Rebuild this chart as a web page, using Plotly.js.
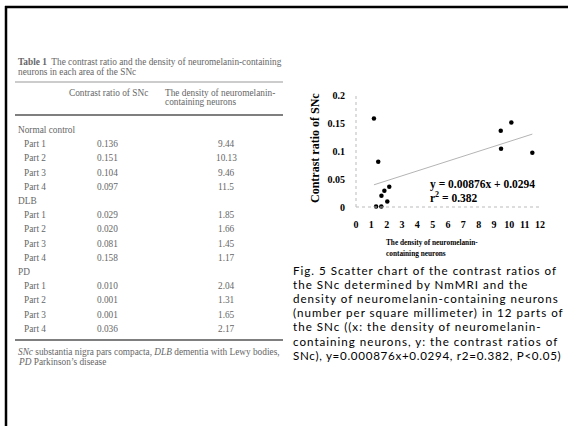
<!DOCTYPE html>
<html><head><meta charset="utf-8">
<script src="https://cdn.plot.ly/plotly-3.0.1.min.js"></script>
<style>html,body{margin:0;padding:0;background:#fff;}#chart{width:568px;height:426px;}</style>
</head><body><div id="chart"></div>
<script>
// ---- data ----
const groups = ['Normal control', 'DLB', 'PD'];
const parts = ['Part 1', 'Part 2', 'Part 3', 'Part 4'];
const contrastNormal = [0.136, 0.151, 0.104, 0.097];
const contrastDLB = [0.029, 0.020, 0.081, 0.158];
const contrastPD = [0.010, 0.001, 0.001, 0.036];
const densityNormal = [9.44, 10.13, 9.46, 11.5];
const densityDLB = [1.85, 1.66, 1.45, 1.17];
const densityPD = [2.04, 1.31, 1.65, 2.17];
const slope = 0.00876;
const intercept = 0.0294;
const rSquared = 0.382;
const xTickVals = [0, 1, 2, 3, 4, 5, 6, 7, 8, 9, 10, 11, 12];
const yTickVals = [0, 0.05, 0.1, 0.15, 0.2];
const yTickText = ['0', '0.05', '0.1', '0.15', '0.2'];

// ---- texts ----
const tableTitle = ['<b>Table 1</b>  The contrast ratio and the density of neuromelanin-containing',
                    'neurons in each area of the SNc'];
const headerCol2 = 'Contrast ratio of SNc';
const headerCol3 = ['The density of neuromelanin-', 'containing neurons'];
const footnote = ['<i>SNc</i> substantia nigra pars compacta, <i>DLB</i> dementia with Lewy bodies,',
                  '<i>PD</i> Parkinson\u2019s disease'];
const yTitle = 'Contrast ratio of SNc';
const xTitleLines = ['The density of neuromelanin-', 'containing neurons'];
const captionLines = [
  'Fig. 5 Scatter chart of the contrast ratios of',
  'the SNc determined by NmMRI and the',
  'density of neuromelanin-containing neurons',
  '(number per square millimeter) in 12 parts of',
  'the SNc ((x: the density of neuromelanin-',
  'containing neurons, y: the contrast ratios of',
  'SNc), y=0.000876x+0.0294, r2=0.382, P&lt;0.05)'
];

// ---- helpers (pixel -> paper) ----
const W = 568, H = 426;
const px = v => v / W;
const py = v => 1 - v / H;

const serif = 'Liberation Serif, Times New Roman, serif';
const tColor = '#666';
const tSize = 9.3;
const ann = [];
const shapes = [];

function note(text, x, y, anchor, font, extra) {
  ann.push(Object.assign({text: text, x: px(x), y: py(y), xref: 'paper', yref: 'paper',
    xanchor: anchor, yanchor: 'middle', showarrow: false, font: font}, extra || {}));
}
const tFont = {family: serif, size: tSize, color: tColor};

// table title
tableTitle.forEach((t, i) => note(t, 16, 62 + i * 9.5, 'left', tFont));
// header
note(headerCol2, 67, 93, 'left', tFont);
headerCol3.forEach((t, i) => note(t, 163, 93 + i * 9.5, 'left', tFont));
// rows
const contrastAll = [contrastNormal, contrastDLB, contrastPD];
const densityAll = [densityNormal, densityDLB, densityPD];
let rowY = 130;
const step = 14.2;
groups.forEach((g, gi) => {
  note(g, 16, rowY, 'left', tFont);
  rowY += step;
  parts.forEach((p, pi) => {
    note(p, 22, rowY, 'left', tFont);
    note(contrastAll[gi][pi].toFixed(3), 95, rowY, 'left', tFont);
    note(String(densityAll[gi][pi]), 226, rowY, 'center', tFont);
    rowY += step;
  });
});
// footnote
footnote.forEach((t, i) => note(t, 16, 352 + i * 10, 'left', tFont));

// table rules
shapes.push({type: 'line', xref: 'paper', yref: 'paper', x0: px(15), x1: px(283), y0: py(82), y1: py(82), line: {color: '#999', width: 1}});
shapes.push({type: 'line', xref: 'paper', yref: 'paper', x0: px(15), x1: px(283), y0: py(115), y1: py(115), line: {color: '#555', width: 1.5}});
shapes.push({type: 'line', xref: 'paper', yref: 'paper', x0: px(15), x1: px(283), y0: py(340), y1: py(340), line: {color: '#555', width: 1.5}});
// frame
shapes.push({type: 'line', xref: 'paper', yref: 'paper', x0: px(5), x1: px(568), y0: py(7), y1: py(7), line: {color: '#000', width: 2.5}});
shapes.push({type: 'line', xref: 'paper', yref: 'paper', x0: px(6), x1: px(6), y0: py(6), y1: py(426), line: {color: '#000', width: 2.5}});

// chart axes (dotted, faint)
const xL = 356, xR = 540, yB = 207, yT = 95;
shapes.push({type: 'line', xref: 'paper', yref: 'paper', x0: px(xL), x1: px(xL), y0: py(yB), y1: py(yT), line: {color: '#bbb', width: 1, dash: 'dot'}});
shapes.push({type: 'line', xref: 'paper', yref: 'paper', x0: px(xL), x1: px(xR), y0: py(yB), y1: py(yB), line: {color: '#bbb', width: 1, dash: 'dot'}});

// axis titles
note('<b>' + yTitle + '</b>', 315, 148, 'center', {family: serif, size: 12, color: '#000'}, {textangle: -90});
xTitleLines.forEach((t, i) => note('<b>' + t + '</b>', 384, 242 + i * 11, 'left', {family: serif, size: 7.3, color: '#000'}));
// equation
const eqFont = {family: serif, size: 11.5, color: '#000'};
note('<b>y = ' + slope + 'x + ' + intercept + '</b>', 428, 184, 'left', eqFont);
note('<b>r<sup>2</sup> = ' + rSquared + '</b>', 428, 197, 'left', eqFont);
// caption
captionLines.forEach((t, i) => {
  const ls = (i === captionLines.length - 1) ? 0.7 : 1.0;
  note('<span style="letter-spacing:' + ls + 'px">' + t + '</span>', 291, 270 + i * 14.2, 'left',
    {family: 'Lato, Open Sans, sans-serif', size: 11.6, color: '#000'});
});

// ---- traces ----
const xs = [...densityNormal, ...densityDLB, ...densityPD];
const ys = [...contrastNormal, ...contrastDLB, ...contrastPD];
const xMin = Math.min(...xs), xMax = Math.max(...xs);
const trend = {x: [xMin, xMax], y: [slope * xMin + intercept, slope * xMax + intercept], mode: 'lines',
  line: {color: '#b4b4b4', width: 1}, hoverinfo: 'skip', cliponaxis: false};
const pts = {x: xs, y: ys, mode: 'markers', marker: {color: '#000', size: 4.5}, cliponaxis: false};

const layout = {
  width: W, height: H, margin: {l: 0, r: 0, t: 0, b: 0},
  paper_bgcolor: '#fff', plot_bgcolor: 'rgba(0,0,0,0)', showlegend: false,
  font: {family: serif},
  xaxis: {domain: [px(xL), px(xR)], range: [0, 12], tickvals: xTickVals, ticks: '', showgrid: false, zeroline: false,
    showline: false, ticklabelstandoff: 10, tickfont: {family: serif, size: 10, color: '#000', weight: 'bold'}, fixedrange: true},
  yaxis: {domain: [py(yB), py(yT)], range: [0, 0.2], tickvals: yTickVals, ticktext: yTickText, ticks: '', showgrid: false,
    zeroline: false, showline: false, ticklabelstandoff: 10, tickfont: {family: serif, size: 10, color: '#000', weight: 'bold'}, fixedrange: true},
  annotations: ann,
  shapes: shapes
};
Plotly.newPlot('chart', [trend, pts], layout, {displayModeBar: false, staticPlot: true});
</script></body></html>
